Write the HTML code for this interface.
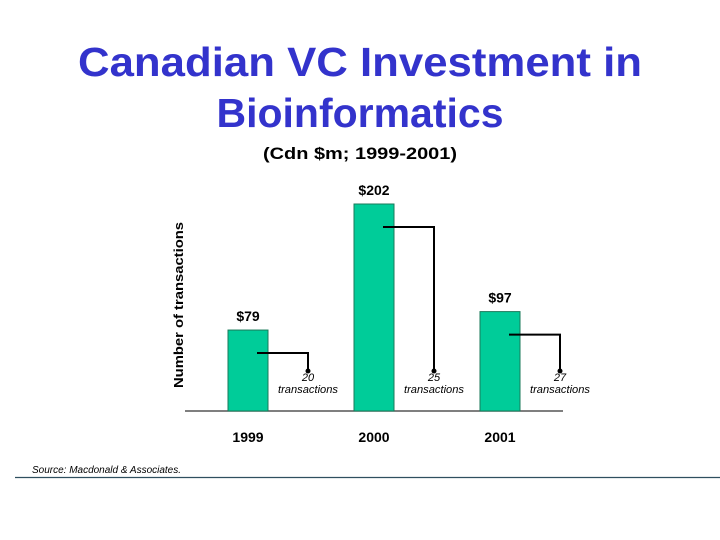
<!DOCTYPE html>
<html><head><meta charset="utf-8"><style>
body{margin:0;background:#fff;}
svg{display:block;font-family:"Liberation Sans",Arial,sans-serif;}
</style></head><body>
<svg id="chart" width="720" height="540" viewBox="0 0 720 540">
<text x="360" y="76" text-anchor="middle" font-size="41" font-weight="bold" fill="#3333CC" textLength="564" lengthAdjust="spacingAndGlyphs">Canadian VC Investment in</text>
<text x="360" y="127" text-anchor="middle" font-size="41" font-weight="bold" fill="#3333CC">Bioinformatics</text>
<text x="360" y="159" text-anchor="middle" font-size="17" font-weight="bold" fill="#000" textLength="194" lengthAdjust="spacingAndGlyphs">(Cdn $m; 1999-2001)</text>
<text transform="translate(183,305) rotate(-90)" text-anchor="middle" font-size="13" font-weight="bold" textLength="166" lengthAdjust="spacingAndGlyphs" fill="#000">Number of transactions</text>
<line x1="185" y1="411" x2="563" y2="411" stroke="#555" stroke-width="1.5"/>
<g id="marks"></g>
<text x="32" y="473" font-size="10" font-style="italic" fill="#000" textLength="149" lengthAdjust="spacingAndGlyphs">Source: Macdonald &amp; Associates.</text>
<line x1="15" y1="477.5" x2="720" y2="477.5" stroke="#2F4F5F" stroke-width="1.2"/>
</svg>
<script>
const years = ["1999", "2000", "2001"];
const investment = [79, 202, 97];
const transactions = [20, 25, 27];

const NS = "http://www.w3.org/2000/svg";
const g = document.getElementById("marks");
const baseY = 411, pxPerUnit = 207 / 202;
function xPos(i){ return 228 + i * 126; }
function yPos(v){ return baseY - v * pxPerUnit; }
function mk(tag, attrs){ const e = document.createElementNS(NS, tag); for (const k in attrs) e.setAttribute(k, attrs[k]); g.appendChild(e); return e; }

years.forEach((yr, i) => {
  const x = xPos(i), top = yPos(investment[i]);
  const bar = mk("rect", {x: x, y: top, width: 40, height: baseY - top, fill: "#00CC99", stroke: "#1a7a5a", "stroke-width": 1});
  
  
  const vl = mk("text", {x: x + 20, y: top - 9, "text-anchor": "middle", "font-size": 14, "font-weight": "bold", fill: "#000"});
  vl.textContent = "$" + investment[i];
  
  
  const xl = mk("text", {x: x + 20, y: 442, "text-anchor": "middle", "font-size": 14, "font-weight": "bold", fill: "#000"});
  xl.textContent = yr;
  
  
  const lx = x + 80, ly = top + 23;
  const conn = mk("polyline", {points: (x + 29) + "," + ly + " " + lx + "," + ly + " " + lx + ",371", fill: "none", stroke: "#000", "stroke-width": 2});
  
  
  const dot = mk("circle", {cx: lx, cy: 371, r: 2.5, fill: "#000"});
  
  
  const t1 = mk("text", {x: lx, y: 381, "text-anchor": "middle", "font-size": 11, "font-style": "italic", fill: "#000"});
  t1.textContent = transactions[i];
  
  
  const t2 = mk("text", {x: lx, y: 393, "text-anchor": "middle", "font-size": 11, "font-style": "italic", fill: "#000", textLength: 60, lengthAdjust: "spacingAndGlyphs"});
  t2.textContent = "transactions";
  
  
});
</script>
</body></html>
